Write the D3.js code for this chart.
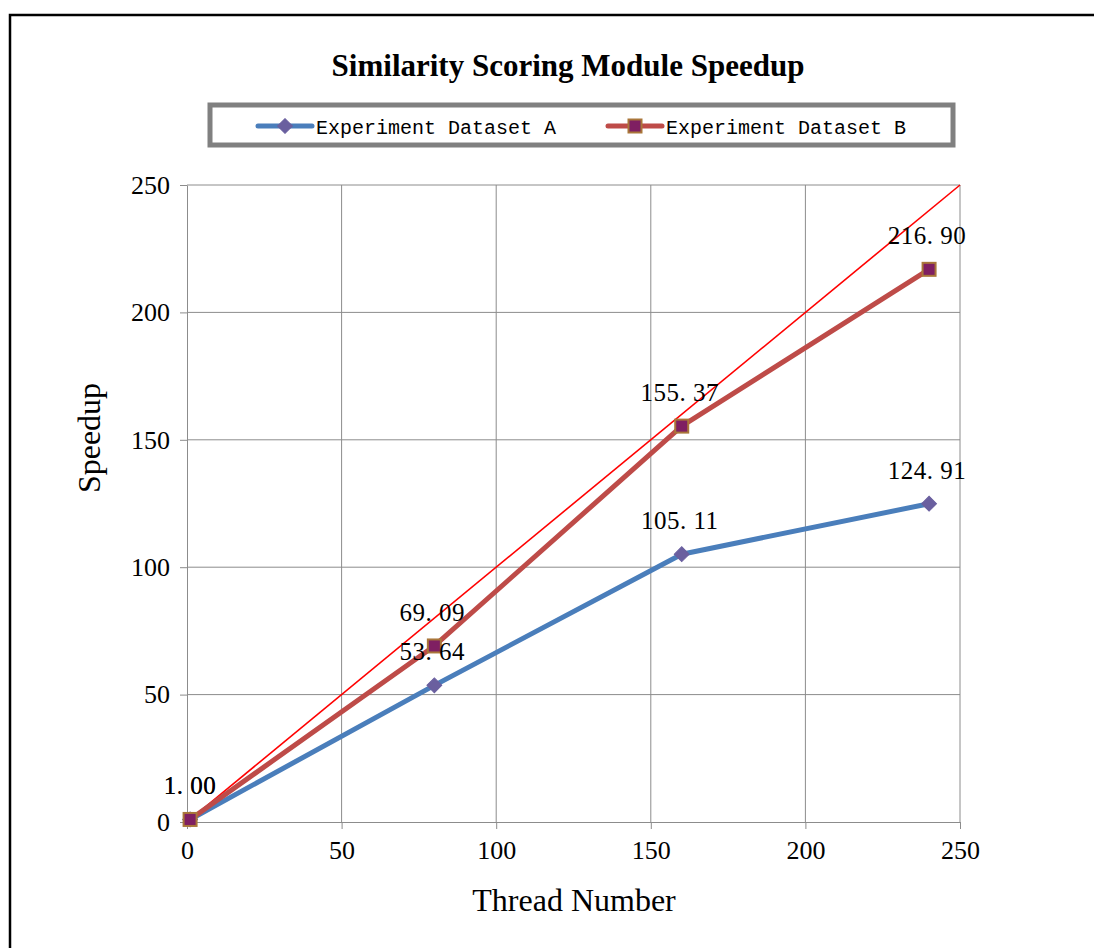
<!DOCTYPE html>
<html>
<head>
<meta charset="utf-8">
<script src="https://cdn.jsdelivr.net/npm/d3@7"></script>
<style>
  body { margin: 0; background: #fff; }
  svg { display: block; }
</style>
</head>
<body>
<svg id="chart" width="1094" height="948"></svg>
<script>
// data
const threads = [1, 80, 160, 240];
const speedupA = [1.00, 53.64, 105.11, 124.91];
const speedupB = [1.00, 69.09, 155.37, 216.90];
const ideal = [[0, 0], [250, 250]];
const xTicks = [0, 50, 100, 150, 200, 250];
const yTicks = [0, 50, 100, 150, 200, 250];
const seriesNames = ['Experiment Dataset A', 'Experiment Dataset B'];

const svg = d3.select('#chart');
const serif = '"Liberation Serif", "Times New Roman", serif';
const mono = '"Liberation Mono", monospace';

// outer chart frame
svg.append('rect')
  .attr('x', 10).attr('y', 15)
  .attr('width', 1100).attr('height', 960)
  .attr('fill', 'none').attr('stroke', '#000').attr('stroke-width', 2.5);

const x = d3.scaleLinear().domain([0, 250]).range([187, 960]);
const y = d3.scaleLinear().domain([0, 250]).range([822, 185]);

// grid
svg.append('g').selectAll('line').data(xTicks.slice(1)).enter().append('line')
  .attr('x1', d => x(d)).attr('x2', d => x(d))
  .attr('y1', y(0)).attr('y2', y(250))
  .attr('stroke', '#8c8c8c').attr('stroke-width', 1);
svg.append('g').selectAll('line').data(yTicks.slice(1)).enter().append('line')
  .attr('x1', x(0)).attr('x2', x(250))
  .attr('y1', d => y(d)).attr('y2', d => y(d))
  .attr('stroke', '#8c8c8c').attr('stroke-width', 1);

// axes
const xAxis = svg.append('g')
  .attr('transform', 'translate(0,' + y(0) + ')')
  .call(d3.axisBottom(x).tickValues(xTicks).tickSize(7).tickPadding(12).tickSizeOuter(0));
const yAxis = svg.append('g')
  .attr('transform', 'translate(' + x(0) + ',0)')
  .call(d3.axisLeft(y).tickValues(yTicks).tickSize(7).tickPadding(10).tickSizeOuter(0));
[xAxis, yAxis].forEach(g => {
  g.select('.domain').attr('stroke', '#8c8c8c');
  g.selectAll('.tick line').attr('stroke', '#8c8c8c');
  g.selectAll('.tick text')
    .attr('font-family', serif).attr('font-size', 26).attr('fill', '#000');
});

// ideal speedup line
const line = d3.line().x(d => x(d[0])).y(d => y(d[1]));
svg.append('path')
  .attr('d', line(ideal))
  .attr('fill', 'none').attr('stroke', '#ff0000').attr('stroke-width', 1.6);

const dataA = threads.map((t, i) => [t, speedupA[i]]);
const dataB = threads.map((t, i) => [t, speedupB[i]]);

svg.append('path').attr('d', line(dataA))
  .attr('fill', 'none').attr('stroke', '#4a7ebb').attr('stroke-width', 5)
  .attr('stroke-linejoin', 'round');
svg.append('path').attr('d', line(dataB))
  .attr('fill', 'none').attr('stroke', '#be4b48').attr('stroke-width', 5)
  .attr('stroke-linejoin', 'round');

const diamond = (g, cx, cy) => g.append('path')
  .attr('d', d3.symbol().type(d3.symbolSquare).size(110)())
  .attr('transform', 'translate(' + cx + ',' + cy + ') rotate(45)')
  .attr('fill', '#6a5f9f').attr('stroke', '#6a5f9f').attr('stroke-width', 1);
const square = (g, cx, cy) => g.append('rect')
  .attr('x', cx - 6.5).attr('y', cy - 6.5).attr('width', 13).attr('height', 13)
  .attr('fill', '#7f1f62').attr('stroke', '#a9763a').attr('stroke-width', 2);

const marks = svg.append('g');
dataA.forEach(d => diamond(marks, x(d[0]), y(d[1])));
dataB.forEach(d => square(marks, x(d[0]), y(d[1])));

// data labels
const labels = svg.append('g')
  .attr('font-family', serif).attr('font-size', 25).attr('text-anchor', 'middle');
[dataA, dataB].forEach(data => {
  data.forEach(d => {
    labels.append('text')
      .attr('x', x(d[0]) + (d[0] < 10 ? 0 : -2))
      .attr('y', y(d[1]) - 25)
      .attr('letter-spacing', 0.5)
      .text(d3.format('.2f')(d[1]).replace('.', '. '));
  });
});

// title
svg.append('text')
  .attr('x', 568).attr('y', 76)
  .attr('text-anchor', 'middle')
  .attr('font-family', serif).attr('font-size', 31).attr('font-weight', 'bold')
  .text('Similarity Scoring Module Speedup');

// axis titles
svg.append('text')
  .attr('x', 574).attr('y', 911)
  .attr('text-anchor', 'middle')
  .attr('font-family', serif).attr('font-size', 32)
  .text('Thread Number');
svg.append('text')
  .attr('transform', 'translate(100,438) rotate(-90)')
  .attr('text-anchor', 'middle')
  .attr('font-family', serif).attr('font-size', 32)
  .text('Speedup');

// legend
const legend = svg.append('g');
legend.append('rect')
  .attr('x', 210).attr('y', 105).attr('width', 743).attr('height', 40)
  .attr('fill', '#fff').attr('stroke', '#808080').attr('stroke-width', 5);
const legendItems = [
  { name: seriesNames[0], color: '#4a7ebb', x0: 258, marker: diamond },
  { name: seriesNames[1], color: '#be4b48', x0: 608, marker: square }
];
legendItems.forEach(it => {
  legend.append('line')
    .attr('x1', it.x0).attr('x2', it.x0 + 54)
    .attr('y1', 126).attr('y2', 126)
    .attr('stroke', it.color).attr('stroke-width', 5).attr('stroke-linecap', 'round');
  it.marker(legend, it.x0 + 27, 126);
  legend.append('text')
    .attr('x', it.x0 + 58).attr('y', 134)
    .attr('font-family', mono).attr('font-size', 20)
    .text(it.name);
});
</script>
</body>
</html>
